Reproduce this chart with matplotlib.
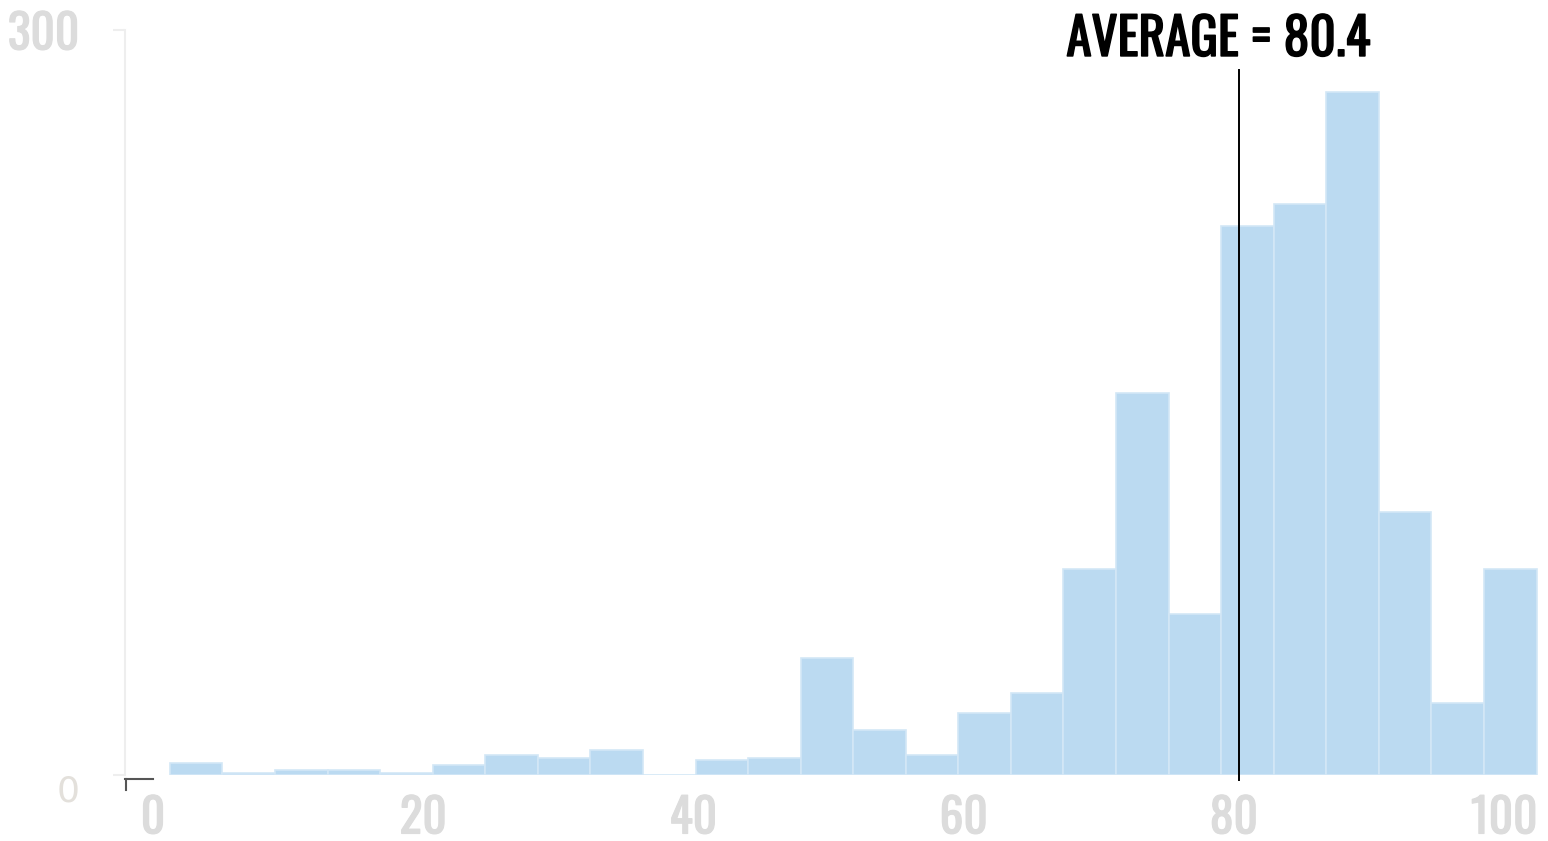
import numpy as np
import matplotlib
matplotlib.use("Agg")
import matplotlib.pyplot as plt
import matplotlib.patheffects as pe
from matplotlib.transforms import blended_transform_factory
from matplotlib import font_manager as fm

# histogram counts, 26 bins
counts = [5, 1, 2, 2, 1, 4, 8, 7, 10, 0, 6, 7, 47, 18, 8, 25, 33, 83,
          154, 65, 221, 230, 275, 106, 29, 83]
bin_start = 1.25
bin_end = 102.4
average = 80.4
x_ticks = [0, 20, 40, 60, 80, 100]
y_ticks = [0, 300]

installed = {f.name for f in fm.fontManager.ttflist}
FONT = [f for f in ["Oswald", "League Gothic", "Bebas Neue", "Barlow Condensed", "DejaVu Sans"]
        if f in installed]
plt.rcParams["font.family"] = FONT

LABEL = "#dcdcdc"
# the font has a single weight, so thicken the glyphs a little with a stroke
fat_grey = [pe.withStroke(linewidth=0.9, foreground=LABEL)]
fat_black = [pe.withStroke(linewidth=1.1, foreground="black")]

fig = plt.figure(figsize=(15.48, 8.41), dpi=100)
ax = fig.add_axes([125 / 1548, 1 - 775 / 841, (1542 - 125) / 1548, (775 - 30) / 841])

edges = np.linspace(bin_start, bin_end, len(counts) + 1)
ax.bar(edges[:-1], counts, width=np.diff(edges), align="edge",
       color="#bbdaf1", edgecolor="#d3e7f6", linewidth=1.2)

xmin = -2.07
ax.set_xlim(xmin, 102.8)
ax.set_ylim(0, 300)

# spines
for s in ["top", "right"]:
    ax.spines[s].set_visible(False)
ax.spines["left"].set_color("#eeeeee")
ax.spines["left"].set_linewidth(1.5)
ax.spines["bottom"].set_color("#555555")
ax.spines["bottom"].set_linewidth(1.5)
ax.spines["bottom"].set_position(("outward", 3))
ax.spines["bottom"].set_bounds(xmin, 0)

# small outer tick at the origin
trans = blended_transform_factory(ax.transData, ax.transAxes)
ax.plot([xmin + 0.05, xmin + 0.05], [-0.006, -0.02], color="#555555", lw=1.5,
        transform=trans, clip_on=False)

ax.set_xticks(x_ticks)
ax.set_xticklabels([str(t) for t in x_ticks])
ax.tick_params(axis="x", length=0, pad=11, labelsize=34, labelcolor=LABEL)
for lab in ax.get_xticklabels():
    lab.set_path_effects(fat_grey)

ax.set_yticks(y_ticks)
ax.set_yticklabels([str(t) for t in y_ticks])
ax.tick_params(axis="y", length=9, width=1.5, color="#eeeeee", pad=24,
               labelsize=34, labelcolor=LABEL)
ylabs = ax.get_yticklabels()
ylabs[1].set_path_effects(fat_grey)
ylabs[0].set_family("DejaVu Sans")
ylabs[0].set_fontsize(26)
ylabs[0].set_color("#e3e0db")
ylabs[0].set_va("top")

# average line + label
ax.plot([average, average], [-2, 284], color="black", lw=1.4, clip_on=False)
ax.annotate(f"AVERAGE = {average}", xy=(average, 296), xytext=(-15, 0),
            textcoords="offset points", ha="center", va="center",
            fontsize=37, color="black", path_effects=fat_black,
            annotation_clip=False)

fig.savefig("out.png", dpi=100)
